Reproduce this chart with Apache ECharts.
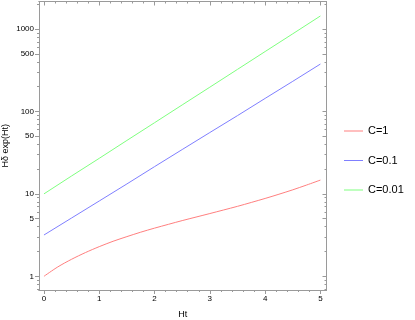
<!DOCTYPE html>
<html>
<head>
<meta charset="utf-8">
<script src="https://cdn.jsdelivr.net/npm/echarts@6/dist/echarts.min.js"></script>
<style>html,body{margin:0;padding:0;background:#fff;}#c{width:415px;height:320px;}</style>
</head>
<body>
<div id="c"></div>
<script>
var tRed = [0, 0.25, 0.5, 0.75, 1, 1.25, 1.5, 1.75, 2, 2.25, 2.5, 2.75, 3, 3.25, 3.5, 3.75, 4, 4.25, 4.5, 4.75, 5];
var red = [1, 1.30, 1.61, 1.94, 2.29, 2.66, 3.03, 3.43, 3.84, 4.27, 4.74, 5.23, 5.77, 6.38, 7.06, 7.87, 8.80, 9.90, 11.2, 12.8, 14.7];
var tLine = [0, 0.5, 1, 1.5, 2, 2.5, 3, 3.5, 4, 4.5, 5];
var blue = [3.17, 5.1, 8.2, 13.2, 21.4, 34.5, 55.5, 89, 144, 232, 376];
var green = [10, 16.5, 27, 44.5, 73, 120, 197, 324, 533, 875, 1440];
var seriesNames = ['C=1', 'C=0.1', 'C=0.01'];
var xMajor = [0, 1, 2, 3, 4, 5];
var xMinor = [0.2,0.4,0.6,0.8,1.2,1.4,1.6,1.8,2.2,2.4,2.6,2.8,3.2,3.4,3.6,3.8,4.2,4.4,4.6,4.8];
var yMajor = [1, 5, 10, 50, 100, 500, 1000];
var yMinor = [0.7,0.8,0.9,2,3,4,6,7,8,9,20,30,40,60,70,80,90,200,300,400,600,700,800,900,2000];

function pairs(xs, ys){ return xs.map(function(x,i){ return [x, ys[i]]; }); }

var axisColor = '#9a9a9a';
var fontFam = 'Liberation Sans, Arial, sans-serif';
var xMin = -0.09, xMax = 5.11, yMin = 0.682, yMax = 2157;
function fmt(v){ return String(v); }

function xAx(pos, ticks, len, inside, labels, extra){
  var a = {type:'value', min:xMin, max:xMax, position:pos,
    axisLine:{show:true, onZero:false, lineStyle:{color:axisColor, width:1}},
    axisTick:{show:true, inside:inside, length:len, customValues:ticks, lineStyle:{color:axisColor}},
    axisLabel:{show:labels, customValues:ticks, formatter:fmt, color:'#000', fontSize:8, fontFamily:fontFam, margin:5},
    splitLine:{show:false}};
  for (var k in extra) a[k]=extra[k];
  return a;
}
function yAx(pos, ticks, len, inside, labels, extra){
  var a = {type:'log', logBase:10, min:yMin, max:yMax, position:pos,
    axisLine:{show:true, onZero:false, lineStyle:{color:axisColor, width:1}},
    axisTick:{show:true, inside:inside, length:len, customValues:ticks, lineStyle:{color:axisColor}},
    axisLabel:{show:labels, customValues:ticks, formatter:fmt, color:'#000', fontSize:8, fontFamily:fontFam, margin:5},
    splitLine:{show:false}};
  for (var k in extra) a[k]=extra[k];
  return a;
}

var chart = echarts.init(document.getElementById('c'), null, {renderer:'canvas'});
chart.setOption({
  animation:false,
  backgroundColor:'#fff',
  grid:{left:39, top:1.5, width:287.5, height:288.5, containLabel:false, outerBoundsMode:'none'},
  legend:{
    orient:'vertical', left:339, top:119,
    itemWidth:19, itemHeight:1, itemGap:15.5, icon:'rect',
    textStyle:{fontSize:11, fontFamily:fontFam, color:'#000', lineHeight:14},
    data:seriesNames
  },
  xAxis:[
    xAx('bottom', xMajor, 4, false, true, {name:'Ht', nameLocation:'middle', nameGap:20, nameMoveOverlap:false, nameTextStyle:{fontSize:9, fontFamily:fontFam, color:'#000'}}),
    xAx('bottom', xMinor, 2, false, false, {}),
    xAx('top', xMajor, 4, true, false, {}),
    xAx('top', xMinor, 2, true, false, {})
  ],
  yAxis:[
    yAx('left', yMajor, 4, false, true, {name:'H\u03b4 exp(Ht)', nameLocation:'middle', nameGap:29, nameMoveOverlap:false, nameTextStyle:{fontSize:9, fontFamily:fontFam, color:'#000'}}),
    yAx('left', yMinor, 2, false, false, {}),
    yAx('right', yMajor, 4, true, false, {}),
    yAx('right', yMinor, 2, true, false, {})
  ],
  series:[
    {name:seriesNames[0], type:'line', data:pairs(tRed, red), smooth:0.3, symbol:'none', lineStyle:{color:'#ff7f7f', width:1}, itemStyle:{color:'#ff7f7f'}},
    {name:seriesNames[1], type:'line', data:pairs(tLine, blue), smooth:false, symbol:'none', lineStyle:{color:'#7f7fff', width:1}, itemStyle:{color:'#7f7fff'}},
    {name:seriesNames[2], type:'line', data:pairs(tLine, green), smooth:false, symbol:'none', lineStyle:{color:'#7fff7f', width:1}, itemStyle:{color:'#7fff7f'}}
  ]
});
</script>
</body>
</html>
